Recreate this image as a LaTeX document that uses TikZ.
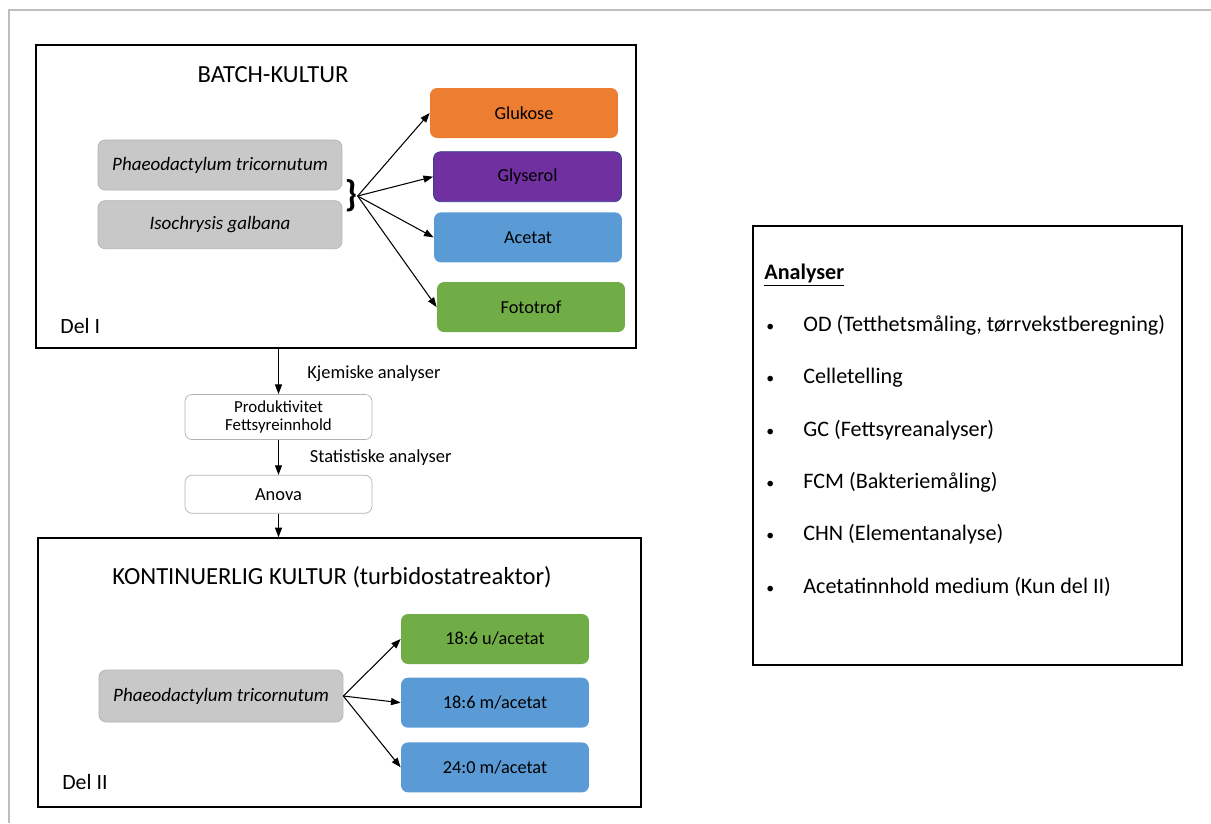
\documentclass[tikz,border=0pt]{standalone}
\usepackage{fontspec}
\setmainfont{Carlito}
\usetikzlibrary{positioning, arrows.meta}

\definecolor{orangebox}{HTML}{ED7D31}
\definecolor{purplebox}{HTML}{7030A0}
\definecolor{purpleline}{HTML}{2F3F8F}
\definecolor{bluebox}{HTML}{5B9BD5}
\definecolor{greenbox}{HTML}{70AD47}
\definecolor{graybox}{HTML}{C8C8C8}
\definecolor{grayline}{HTML}{BDBDBD}

\newcommand{\listbullet}{\makebox[0.78cm][l]{\hspace{0.04cm}{\fontsize{9}{9}\selectfont•}}}

\begin{document}
\begin{tikzpicture}[
  x=0.02cm, y=-0.02cm,
  frame/.style={rectangle, draw=black, line width=0.8pt, inner sep=0pt},
  species/.style={rectangle, rounded corners=4pt, draw=black!30, fill=graybox, minimum width=4.88cm, minimum height=1cm, font=\fontsize{10.8}{13}\selectfont\itshape},
  medium/.style={rectangle, rounded corners=4pt, minimum width=3.76cm, minimum height=1cm, font=\fontsize{10.4}{12}\selectfont},
  result/.style={rectangle, rounded corners=4pt, draw=black!30, fill=white, minimum width=3.74cm, align=center},
  title/.style={font=\fontsize{14}{16}\selectfont},
  part/.style={anchor=west, inner sep=0pt, font=\fontsize{12.4}{15}\selectfont},
  side/.style={font=\fontsize{10.5}{12}\selectfont},
  list/.style={anchor=west, inner sep=0pt, align=left, font=\fontsize{12.6}{29.8}\selectfont},
  arrow/.style={line width=0.6pt, -{Triangle[length=5.5pt, width=4pt]}},
  outline/.style={draw=grayline, line width=1pt}
]
\useasboundingbox (0,0) rectangle (1211,823);

% Page edge
\draw[outline] (8,10) -- (1211,10);
\draw[outline] (9,10) -- (9,823);

% Del I: batch culture
\node[frame, minimum width=12cm, minimum height=6.06cm] (batch) at (336,196.5) {};
\node[title] (batchtitle) at (273,75) {BATCH-KULTUR};
\node[part] (delI) at (60,326) {Del I};

\node[species] (phaeo) at (220,165) {Phaeodactylum tricornutum};
\node[species, below=0.2cm of phaeo, minimum height=0.96cm] (iso) {Isochrysis galbana};
\node[inner sep=0pt, font=\fontsize{21}{21}\selectfont\bfseries] (brace) at (351,196) {\}};

\node[medium, fill=orangebox] (gluk) at (524,113) {Glukose};
\node[medium, fill=purplebox, draw=purpleline, below=0.26cm of gluk, xshift=0.07cm] (glys) {Glyserol};
\node[medium, fill=bluebox, below=0.2cm of glys, xshift=0.01cm] (acet) {Acetat};
\node[medium, fill=greenbox, below=0.38cm of acet, xshift=0.06cm] (foto) {Fototrof};

\draw[arrow] (brace.east) -- (gluk.west);
\draw[arrow] (brace.east) -- (glys.west);
\draw[arrow] (brace.east) -- (acet.west);
\draw[arrow] (brace.east) -- (foto.west);

% Analyses between the parts
\node[result, minimum height=0.84cm, font=\fontsize{9.6}{10.8}\selectfont] (prod) at (278.5,417) {Produktivitet\\Fettsyreinnhold};
\node[result, minimum height=0.76cm, font=\fontsize{10.5}{12}\selectfont, below=0.7cm of prod] (anova) {Anova};

% Del II: continuous culture
\node[frame, minimum width=12.06cm, minimum height=5.38cm] (cont) at (339.5,672.5) {};
\node[title] (conttitle) at (332,577) {KONTINUERLIG KULTUR (turbidostatreaktor)};
\node[part] (delII) at (62,782) {Del II};

\node[species, minimum height=1.04cm] (phaeo2) at (221,696) {Phaeodactylum tricornutum};

\node[medium, fill=greenbox] (uac) at (495,639) {18:6 u/acetat};
\node[medium, fill=bluebox, below=0.26cm of uac] (mac) {18:6 m/acetat};
\node[medium, fill=bluebox, below=0.28cm of mac] (mac24) {24:0 m/acetat};

\draw[arrow] (phaeo2.east) -- (uac.west);
\draw[arrow] (phaeo2.east) -- (mac.west);
\draw[arrow] (phaeo2.east) -- (mac24.west);

\draw[arrow] (batch.south -| prod.north) -- node[side, right=0.45cm, yshift=-0.05cm] {Kjemiske analyser} (prod.north);
\draw[arrow] (prod.south) -- node[side, right=0.5cm] {Statistiske analyser} (anova.north);
\draw[arrow] (anova.south) -- (anova.south |- cont.north);

% Analyses list
\node[frame, minimum width=8.58cm, minimum height=8.78cm] (analyser) at (967.5,445.5) {};
\node[list] (items) at (764,430) {\textbf{\underline{Analyser}}\\
\listbullet OD (Tetthetsmåling, tørrvekstberegning)\\
\listbullet Celletelling\\
\listbullet GC (Fettsyreanalyser)\\
\listbullet FCM (Bakteriemåling)\\
\listbullet CHN (Elementanalyse)\\
\listbullet Acetatinnhold medium (Kun del II)};

\end{tikzpicture}
\end{document}
